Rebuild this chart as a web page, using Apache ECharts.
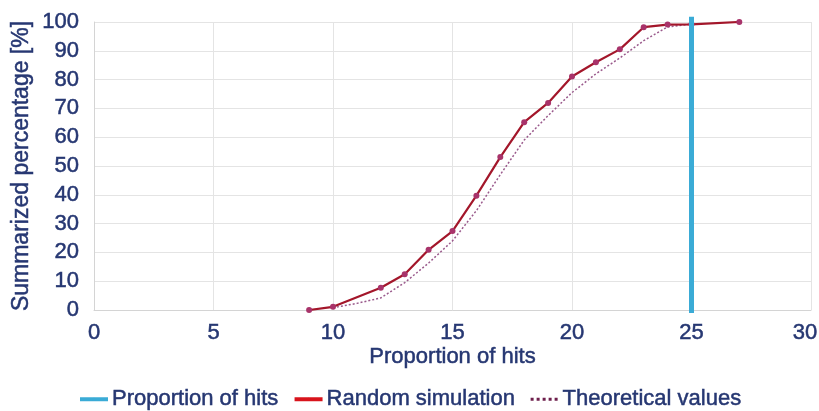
<!DOCTYPE html>
<html>
<head>
<meta charset="utf-8">
<script src="https://cdn.jsdelivr.net/npm/echarts@6/dist/echarts.min.js"></script>
<style>html,body{margin:0;padding:0;background:#fff}#c{width:819px;height:411px}</style>
</head>
<body>
<div id="c"></div>
<script>
const xTicks = [0, 5, 10, 15, 20, 25, 30];
const simX = [9, 10, 12, 13, 14, 15, 16, 17, 18, 19, 20, 21, 22, 23, 24, 25, 27];
const simY = [0, 1.1, 7.7, 12.4, 20.9, 27.4, 39.7, 53.1, 65.2, 71.9, 81.1, 86, 90.5, 98.2, 99.1, 99.2, 100];
const theoX = [10, 11, 12, 13, 14, 15, 16, 17, 18, 19, 20, 21, 22, 23, 24, 25];
const theoY = [0.8, 2.3, 4.2, 9.5, 16.3, 24, 34.5, 47, 59, 67.5, 75.5, 82, 87.5, 93.5, 98.3, 99.3];
const hitX = [25, 25];
const hitY = [-1, 101.8];

const txt = '#263772';
const font = 'Liberation Sans, Arial, sans-serif';
const tStyle = (size) => ({color: txt, fontSize: size, fontFamily: font, textBorderColor: txt, textBorderWidth: 0.5});
const chart = echarts.init(document.getElementById('c'), null, {renderer: 'canvas'});
chart.setOption({
  animation: false,
  grid: {left: 94, right: 8, top: 22, bottom: 101, containLabel: false, outerBoundsMode: 'none'},
  xAxis: {
    type: 'value', min: 0, max: 30, interval: 5,
    name: 'Proportion of hits', nameLocation: 'middle', nameGap: 36, nameMoveOverlap: false,
    nameTextStyle: tStyle(22),
    axisLine: {show: true, lineStyle: {color: '#d4d4d4', width: 1}},
    axisTick: {show: false},
    axisLabel: Object.assign(tStyle(22), {
      margin: 12,
      formatter: (v) => (v === xTicks[xTicks.length - 1] ? '{r|' + v + '}' : String(v)),
      rich: {r: Object.assign(tStyle(22), {padding: [0, 12, 0, 0]})}
    }),
    splitLine: {show: true, lineStyle: {color: '#e4e4e4', width: 1}}
  },
  yAxis: {
    type: 'value', min: 0, max: 100, interval: 10,
    name: 'Summarized percentage [%]', nameLocation: 'middle', nameGap: 61, nameMoveOverlap: false,
    nameTextStyle: tStyle(23),
    axisLine: {show: true, lineStyle: {color: '#d4d4d4', width: 1}},
    axisTick: {show: false},
    axisLabel: Object.assign(tStyle(22), {margin: 15}),
    splitLine: {show: true, lineStyle: {color: '#e4e4e4', width: 1}}
  },
  legend: {
    left: 73, top: 383, itemWidth: 28, itemHeight: 4, itemGap: 14,
    textStyle: Object.assign(tStyle(22), {padding: [0, 0, 0, -1]}),
    data: [
      {name: 'Proportion of hits', lineStyle: {width: 4, color: '#3aabd6'}},
      {name: 'Random simulation', lineStyle: {width: 4, color: '#d8141c'}, itemStyle: {color: '#d8141c'}},
      {name: 'Theoretical values', lineStyle: {width: 3, color: '#6e1f4c', type: [3, 3]}, itemStyle: {color: 'rgba(0,0,0,0)'}}
    ]
  },
  series: [
    {
      name: 'Theoretical values', type: 'line',
      data: theoX.map((x, i) => [x, theoY[i]]),
      symbol: 'none', z: 2,
      lineStyle: {color: '#9a5a8c', width: 1.5, type: [2, 2]},
      itemStyle: {color: '#9a5a8c'}
    },
    {
      name: 'Random simulation', type: 'line',
      data: simX.map((x, i) => [x, simY[i]]),
      symbol: 'circle', symbolSize: 6, z: 3,
      lineStyle: {color: '#a3162a', width: 2.2},
      itemStyle: {color: '#a8336a'}
    },
    {
      name: 'Proportion of hits', type: 'line',
      data: hitX.map((x, i) => [x, hitY[i]]),
      symbol: 'none', clip: false, z: 4,
      lineStyle: {color: '#3aabd6', width: 5},
      itemStyle: {color: '#3aabd6'}
    }
  ]
});
</script>
</body>
</html>
